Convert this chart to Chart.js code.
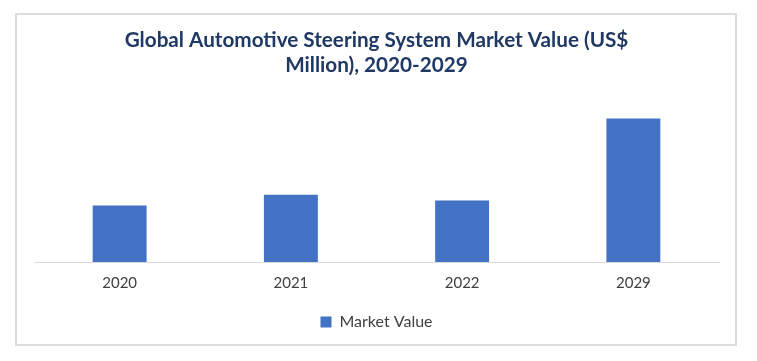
<!DOCTYPE html>
<html>
<head>
<meta charset="utf-8">
<script src="https://cdn.jsdelivr.net/npm/chart.js@4/dist/chart.umd.min.js"></script>
<style>
  html, body { margin: 0; padding: 0; background: #fff; }
  #wrap { position: relative; width: 757px; height: 361px; }
  #frame { position: absolute; left: 15px; top: 13px; width: 722px; height: 333px;
           box-sizing: border-box; border: 2px solid #dcdcdc; pointer-events: none; }
  canvas { position: absolute; left: 0; top: 0; }
</style>
</head>
<body>
<div id="wrap">
  <canvas id="chart" width="757" height="361"></canvas>
  <div id="frame"></div>
</div>
<script>
// data (US$ million)
const years = ["2020", "2021", "2022", "2029"];
const marketValue = [26000, 30900, 28300, 65900];
const seriesName = "Market Value";
const titleLines = ["Global Automotive Steering System Market Value (US$", "Million), 2020-2029"];

const barColor = "#4472C4";
const textColor = "#404040";

const config = {
  type: "bar",
  data: {
    labels: years,
    datasets: [{
      label: seriesName,
      data: marketValue,
      backgroundColor: barColor,
      borderWidth: 0,
      categoryPercentage: 0.63,
      barPercentage: 0.5
    }]
  },
  options: {
    responsive: false,
    animation: false,
    layout: { padding: { left: 34, right: 38, top: 27, bottom: 21 } },
    plugins: {
      title: {
        display: true,
        text: titleLines,
        color: "#1F3864",
        font: { family: "Lato", size: 20.7, weight: "bold", lineHeight: 1.25 },
        padding: { top: 0, bottom: 20 }
      },
      legend: {
        position: "bottom",
        labels: {
          color: textColor,
          font: { family: "Lato", size: 16 },
          boxWidth: 11,
          boxHeight: 11,
          padding: 10
        }
      },
      tooltip: { enabled: false }
    },
    scales: {
      x: {
        grid: { display: false, drawTicks: false },
        border: { display: true, color: "#d9d9d9", width: 1 },
        ticks: { color: textColor, font: { family: "Lato", size: 15 }, padding: 12 }
      },
      y: {
        display: false,
        min: 0,
        max: 75000
      }
    }
  }
};

const chart = new Chart(document.getElementById("chart").getContext("2d"), config);
</script>
</body>
</html>
